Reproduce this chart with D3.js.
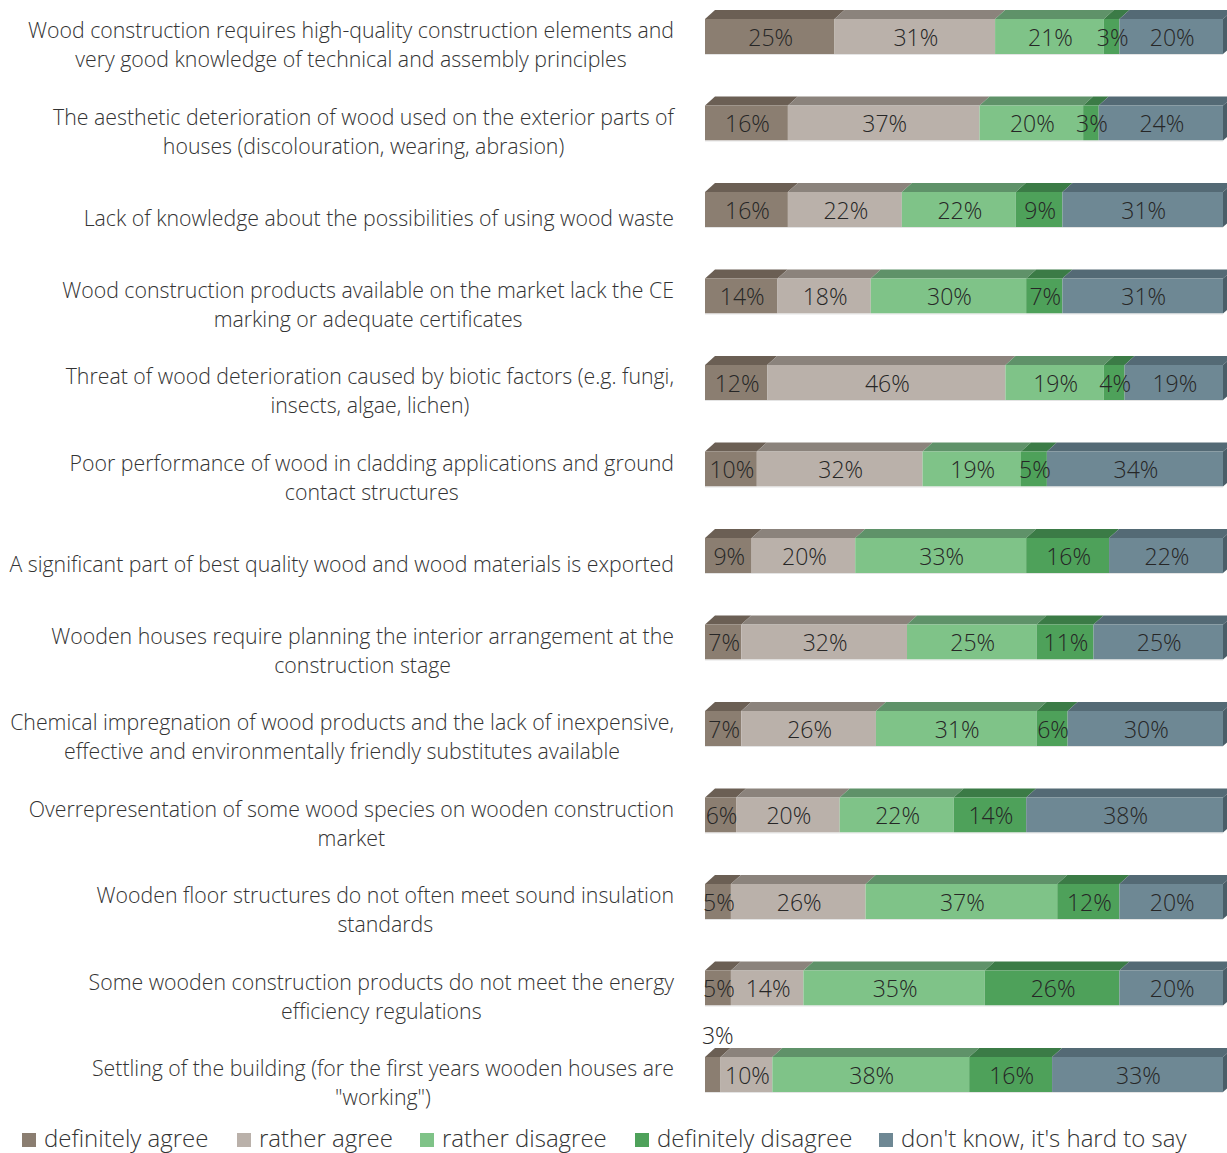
<!DOCTYPE html>
<html>
<head>
<meta charset="utf-8">
<script src="https://cdn.jsdelivr.net/npm/d3@7"></script>
<style>
  html, body { margin: 0; padding: 0; background: #ffffff; }
  svg { display: block; font-family: "Open Sans", "Noto Sans", sans-serif; font-weight: 300; }
</style>
</head>
<body>
<svg id="chart" width="1227" height="1153"></svg>
<script>
// ---------- DATA ----------
const categories = [
  ["Wood construction requires high-quality construction elements and", "very good knowledge of technical and assembly principles"],
  ["The aesthetic deterioration of wood used on the exterior parts of", "houses (discolouration, wearing, abrasion)"],
  ["Lack of knowledge about the possibilities of using wood waste"],
  ["Wood construction products available on the market lack the CE", "marking or adequate certificates"],
  ["Threat of wood deterioration caused by biotic factors (e.g. fungi,", "insects, algae, lichen)"],
  ["Poor performance of wood in cladding applications and ground", "contact structures"],
  ["A significant part of best quality wood and wood materials is exported"],
  ["Wooden houses require planning the interior arrangement at the", "construction stage"],
  ["Chemical impregnation of wood products and the lack of inexpensive,", "effective and environmentally friendly substitutes available"],
  ["Overrepresentation of some wood species on wooden construction", "market"],
  ["Wooden floor structures do not often meet sound insulation", "standards"],
  ["Some wooden construction products do not meet the energy", "efficiency regulations"],
  ["Settling of the building (for the first years wooden houses are", "\"working\")"]
];
const seriesNames = ["definitely agree", "rather agree", "rather disagree", "definitely disagree", "don't know, it's hard to say"];
const definitelyAgree    = [25, 16, 16, 14, 12, 10,  9,  7,  7,  6,  5,  5,  3];
const ratherAgree        = [31, 37, 22, 18, 46, 32, 20, 32, 26, 20, 26, 14, 10];
const ratherDisagree     = [21, 20, 22, 30, 19, 19, 33, 25, 31, 22, 37, 35, 38];
const definitelyDisagree = [ 3,  3,  9,  7,  4,  5, 16, 11,  6, 14, 12, 26, 16];
const dontKnow           = [20, 24, 31, 31, 19, 34, 22, 25, 30, 38, 20, 20, 33];
// labels drawn above the bar (row index, series index)
const outsideLabels = [[12, 0]];

// ---------- STYLE ----------
const frontColors = ["#8b7e71", "#bab1aa", "#7fc388", "#4ea15a", "#6e8894"];
const topColors   = ["#6b5f54", "#8b837c", "#5f9269", "#3b7b46", "#546a75"];
const sideColors  = ["#5e544a", "#7b746e", "#52805c", "#336b3d", "#4a5e68"];

const svg = d3.select("#chart");
const series = [definitelyAgree, ratherAgree, ratherDisagree, definitelyDisagree, dontKnow];
const keys = categories.map((c, i) => i);

const x = d3.scaleLinear().domain([0, 100]).range([705, 1223]);
const y = d3.scalePoint().domain(keys).range([36.5, 36.5 + 12 * 86.5]);
const barH = 35, dx = 10, dy = 9;

const rows = keys.map(i => {
  let acc = 0;
  return series.map((s, j) => {
    const seg = {row: i, s: j, v: s[i], x0: acc, x1: acc + s[i]};
    acc += s[i];
    return seg;
  });
});
const segs = rows.flat();

const g = svg.append("g");

// top faces
g.selectAll("path.top").data(segs).join("path")
  .attr("class", "top")
  .attr("fill", d => topColors[d.s])
  .attr("d", d => {
    const t = y(d.row) - barH / 2;
    const a = x(d.x0), b = x(d.x1);
    return `M${a},${t}L${b},${t}L${b + dx},${t - dy}L${a + dx},${t - dy}Z`;
  });

// right side face
g.selectAll("path.side").data(rows.map(r => r[r.length - 1])).join("path")
  .attr("class", "side")
  .attr("fill", d => sideColors[d.s])
  .attr("d", d => {
    const t = y(d.row) - barH / 2, b = t + barH;
    const r = x(d.x1);
    return `M${r},${t}L${r + dx},${t - dy}L${r + dx},${b - dy}L${r},${b}Z`;
  });

// front faces
g.selectAll("rect.front").data(segs).join("rect")
  .attr("class", "front")
  .attr("x", d => x(d.x0))
  .attr("y", d => y(d.row) - barH / 2)
  .attr("width", d => x(d.x1) - x(d.x0))
  .attr("height", barH)
  .attr("fill", d => frontColors[d.s]);

// bottom light edge
g.selectAll("line.edge").data(keys).join("line")
  .attr("x1", x(0)).attr("x2", x(100))
  .attr("y1", d => y(d) + barH / 2 + 0.5).attr("y2", d => y(d) + barH / 2 + 0.5)
  .attr("stroke", "#e4e4e4").attr("stroke-width", 1);

// value labels
const isOutside = d => outsideLabels.some(o => o[0] === d.row && o[1] === d.s);
g.selectAll("text.val").data(segs).join("text")
  .attr("class", "val")
  .attr("x", d => (x(d.x0) + x(d.x1)) / 2 + (isOutside(d) ? dx / 2 : 1))
  .attr("y", d => isOutside(d) ? y(d.row) - barH / 2 - dy - 12 : y(d.row) + 1)
  .attr("dy", "0.35em")
  .attr("text-anchor", "middle")
  .attr("font-size", 23)
  .attr("fill", "#262626")
  .text(d => d.v + "%");

// category labels: block right-aligned, lines centered
const labelRight = 674, lineH = 29;
keys.forEach(i => {
  const lines = categories[i];
  const grp = svg.append("g");
  const texts = lines.map((ln, k) => grp.append("text")
    .attr("font-size", 21.3)
    .attr("fill", "#333333")
    .attr("text-anchor", "middle")
    .attr("dy", "0.35em")
    .attr("y", y(i) + 9 + (k - (lines.length - 1) / 2) * lineH)
    .text(ln));
  const maxW = d3.max(texts, t => t.node().getComputedTextLength());
  texts.forEach(t => t.attr("x", labelRight - maxW / 2));
});

// legend
const legX = [22, 237, 420, 635, 879];
const leg = svg.append("g");
seriesNames.forEach((n, j) => {
  leg.append("rect").attr("x", legX[j]).attr("y", 1133).attr("width", 14).attr("height", 14)
    .attr("fill", frontColors[j]);
  leg.append("text").attr("x", legX[j] + 22).attr("y", 1147)
    .attr("font-size", 24).attr("fill", "#333333")
    .text(n);
});
</script>
</body>
</html>
